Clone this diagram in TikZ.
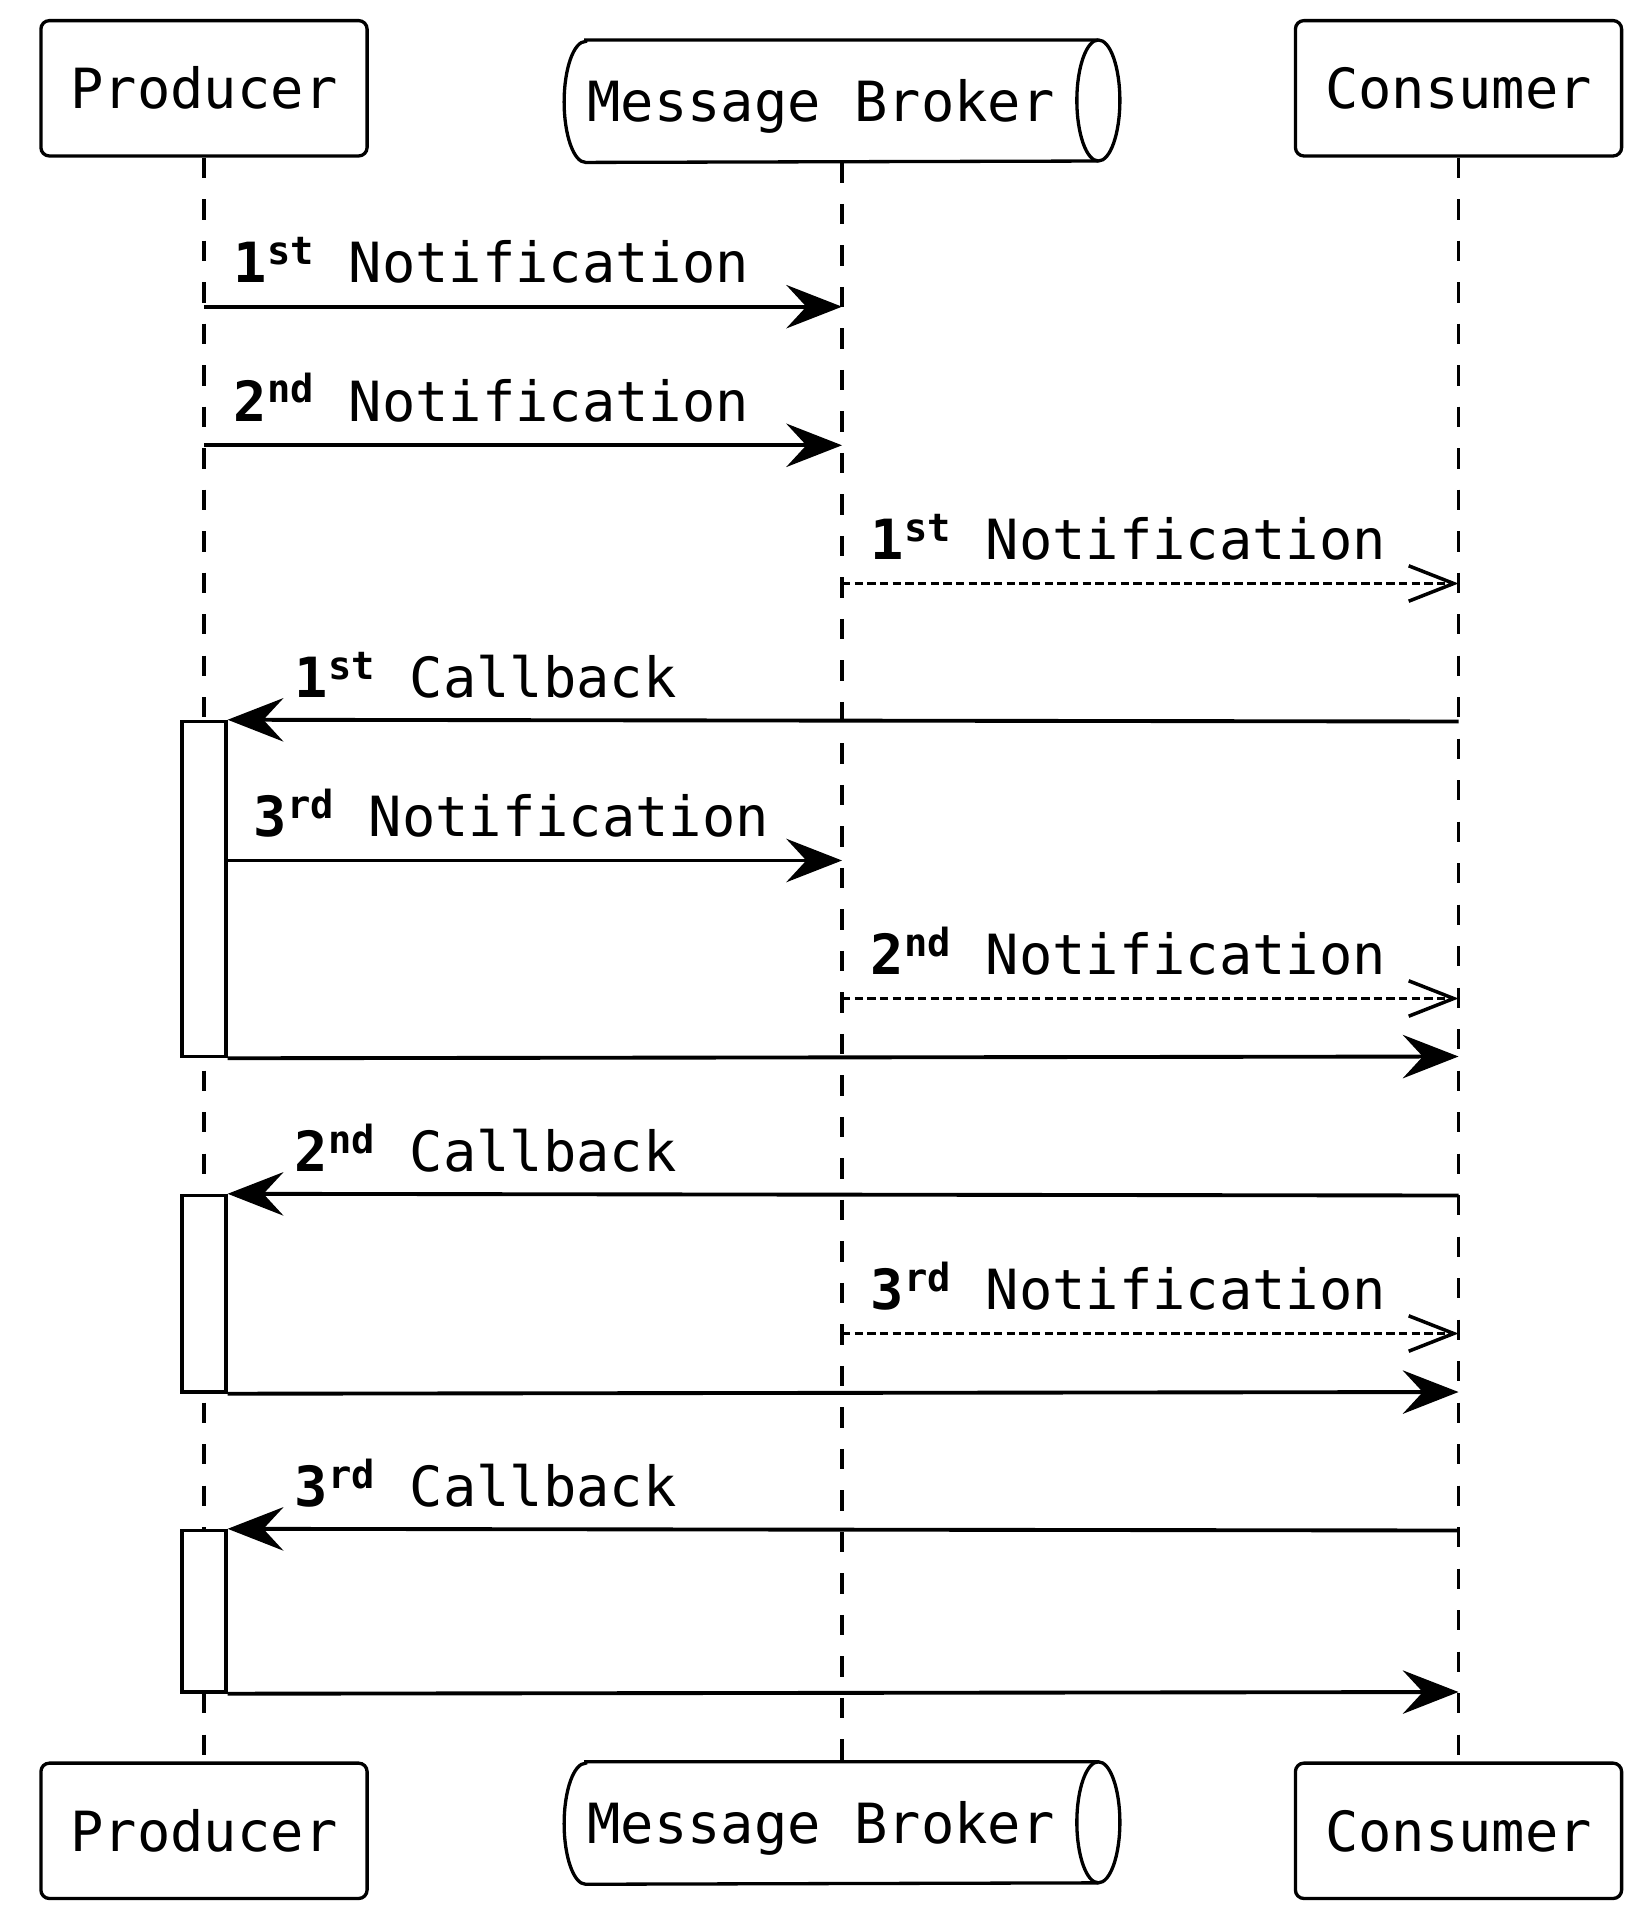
\documentclass[tikz,border=0pt]{standalone}
\usepackage{fontspec}
\usetikzlibrary{arrows.meta,calc}
\newfontfamily\mono{DejaVu Sans Mono}
\newcommand\dfont{\mono\fontsize{15.75}{19}\selectfont}
\newcommand\ordn[2]{\textbf{#1\textsuperscript{#2}}}
\tikzset{
  boxline/.style={line width=0.94pt},
  actor/.style={draw, line width=0.94pt, rounded corners=0.085cm, minimum width=3.26cm,
    minimum height=1.353cm, inner sep=0pt, font=\dfont, text height=0.405cm, text depth=0pt},
  cylbox/.style={inner sep=0pt, minimum width=5.54cm, minimum height=1.21cm},
  cyltext/.style={inner sep=0pt, font=\dfont, text height=0.405cm, text depth=0pt},
  life/.style={line width=1pt, dash pattern=on 5.8pt off 6pt},
  actbox/.style={draw, fill=white, line width=0.94pt, minimum width=0.44cm, inner sep=0pt},
  msg/.style={line width=1.1pt, -{Stealth[length=0.557cm,width=0.434cm,inset=0.2cm]}},
  amsg/.style={line width=1pt, dash pattern=on 2.4pt off 1.2pt,
    -{Straight Barb[length=0.45cm,width=0.354cm,line width=1pt]}},
  lbl/.style={anchor=base west, inner sep=0pt, font=\dfont},
}
\newcommand\drawcyl[1]{%
  \draw[boxline] ([xshift=0.215cm]#1.north west) -- ([xshift=-0.215cm]#1.north east)
    arc[start angle=90, end angle=-90, x radius=0.215cm, y radius=0.605cm]
    -- ([xshift=0.215cm]#1.south west)
    arc[start angle=270, end angle=90, x radius=0.215cm, y radius=0.605cm] -- cycle;
  \draw[boxline] ([xshift=-0.215cm]#1.north east)
    arc[start angle=90, end angle=270, x radius=0.215cm, y radius=0.605cm];
}
\begin{document}
\begin{tikzpicture}[x=0.01cm, y=0.01cm]
\fill[white] (0,0) rectangle (1641,-1919);
\useasboundingbox (0,0) rectangle (1641,-1919);

% participants
\node[actor] (prodT) at (204,-88.3) {Producer};
\node[actor] (consT) at (1458.5,-88.3) {Consumer};
\node[cylbox] (brokerT) at (842,-101.2) {};
\node[cyltext] (brokerTtxt) at (821,-101.2) {Message Broker};
\drawcyl{brokerT}

\node[actor] (prodB) at (204,-1830.8) {Producer};
\node[actor] (consB) at (1458.5,-1830.8) {Consumer};
\node[cylbox] (brokerB) at (842,-1823) {};
\node[cyltext] (brokerBtxt) at (821,-1823) {Message Broker};
\drawcyl{brokerB}

% lifelines
\draw[life] (prodT.south) -- (prodB.north);
\draw[life] (brokerT.south) -- (brokerB.north);
\draw[life] (consT.south) -- (consB.north);

% rows
\coordinate (r1) at (0,-306.7);
\coordinate (r2) at (0,-445.3);
\coordinate (r3) at (0,-583.5);
\coordinate (r4) at (0,-721.5);
\coordinate (r5) at (0,-860.5);
\coordinate (r6) at (0,-998.5);
\coordinate (r7) at (0,-1056.5);
\coordinate (r8) at (0,-1195.5);
\coordinate (r9) at (0,-1333.5);
\coordinate (r10) at (0,-1392);
\coordinate (r11) at (0,-1530.5);
\coordinate (r12) at (0,-1692);

% activations
\node[actbox, minimum height=3.35cm] (act1) at (204,-889) {};
\node[actbox, minimum height=1.965cm] (act2) at (204,-1293.75) {};
\node[actbox, minimum height=1.615cm] (act3) at (204,-1611.25) {};

% messages
\draw[msg] (prodT |- r1) -- (brokerT |- r1);
\node[lbl] (l1) at (233,-282.7) {\ordn{1}{st} Notification};

\draw[msg] (prodT |- r2) -- (brokerT |- r2);
\node[lbl] (l2) at (233,-421.3) {\ordn{2}{nd} Notification};

\draw[amsg] (brokerT |- r3) -- (consT |- r3);
\node[lbl] (l3) at (870,-559.5) {\ordn{1}{st} Notification};

\draw[msg] (consT |- r4) -- (act1.north east);
\node[lbl] (l4) at (294,-697.5) {\ordn{1}{st} Callback};

\draw[msg] (act1.east |- r5) -- (brokerT |- r5);
\node[lbl] (l5) at (253,-836.5) {\ordn{3}{rd} Notification};

\draw[amsg] (brokerT |- r6) -- (consT |- r6);
\node[lbl] (l6) at (870,-974.5) {\ordn{2}{nd} Notification};

\draw[msg] (act1.south east) -- (consT |- r7);

\draw[msg] (consT |- r8) -- (act2.north east);
\node[lbl] (l8) at (294,-1171.5) {\ordn{2}{nd} Callback};

\draw[amsg] (brokerT |- r9) -- (consT |- r9);
\node[lbl] (l9) at (870,-1309.5) {\ordn{3}{rd} Notification};

\draw[msg] (act2.south east) -- (consT |- r10);

\draw[msg] (consT |- r11) -- (act3.north east);
\node[lbl] (l11) at (294,-1506.5) {\ordn{3}{rd} Callback};

\draw[msg] (act3.south east) -- (consT |- r12);
\end{tikzpicture}
\end{document}
